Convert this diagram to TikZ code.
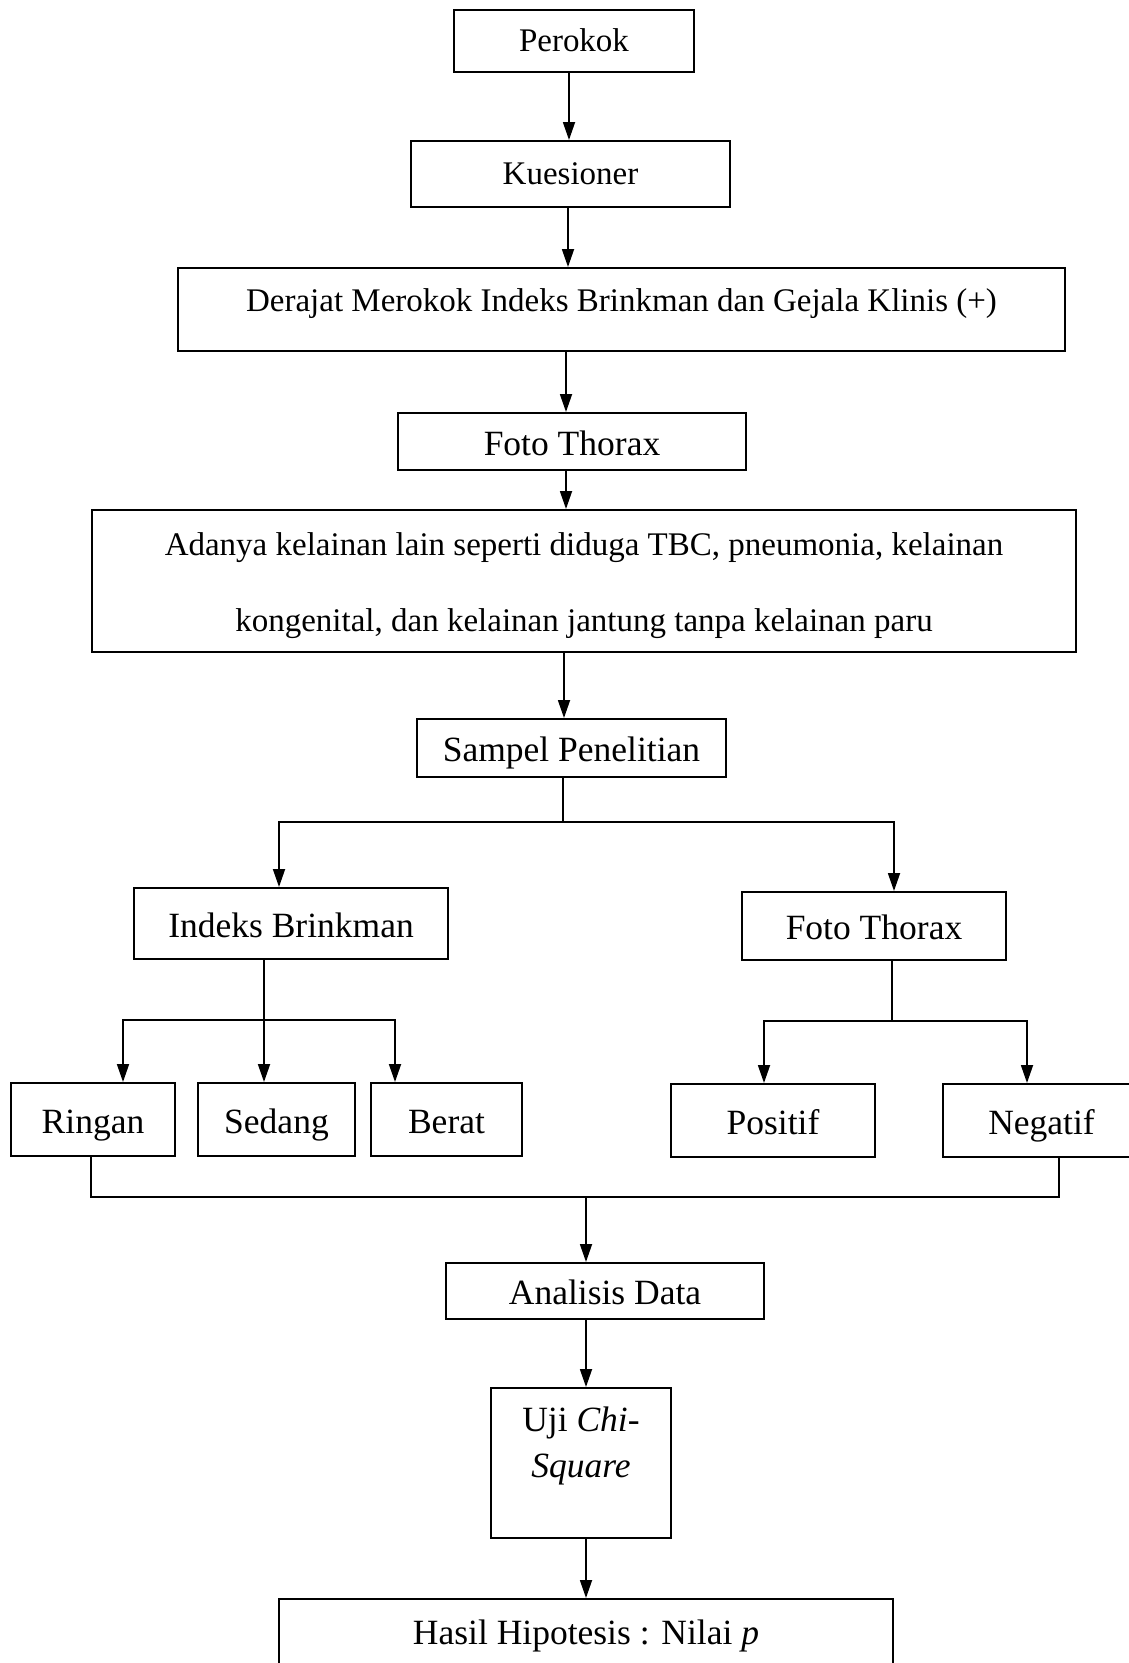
\documentclass[tikz,border=0pt]{standalone}
\usepackage{fontspec}
\setmainfont{Liberation Serif}
\usetikzlibrary{arrows.meta}
\begin{document}
\begin{tikzpicture}[x=1pt,y=-1pt,
  box/.style={draw,line width=2pt,inner sep=0pt,align=center},
  arr/.style={line width=1.8pt,-{Triangle[length=18pt,width=12pt]}},
  ln/.style={line width=1.8pt},
  fa/.style={font=\fontsize{33}{40}\selectfont,text height=25pt,text depth=5pt},
  fb/.style={font=\fontsize{35.5}{42}\selectfont,text height=30pt,text depth=3pt}]
\useasboundingbox (0,0) rectangle (1129,1663);
% boxes
\node[box,fa,minimum width=240pt,minimum height=62pt] (perokok) at (574,41) {Perokok};
\node[box,fa,minimum width=319pt,minimum height=66pt] (kues) at (570.5,174) {Kuesioner};
\node[box,minimum width=887pt,minimum height=83pt] (derajat) at (621.5,309.5) {};
\node[fa,inner sep=0pt] (derajattxt) at (621.5,301) {Derajat Merokok Indeks Brinkman dan Gejala Klinis (+)};
\node[box,fb,minimum width=348pt,minimum height=57pt] (foto1) at (572,441.5) {Foto Thorax};
\node[box,minimum width=984pt,minimum height=142pt] (adanya) at (584,581) {};
\node[inner sep=0pt,align=center,font=\fontsize{33}{76}\selectfont] (adanyatxt) at (584,586) {Adanya kelainan lain seperti diduga TBC, pneumonia, kelainan\\kongenital, dan kelainan jantung tanpa kelainan paru};
\node[box,fb,minimum width=309pt,minimum height=58pt] (sampel) at (571.5,748) {Sampel Penelitian};
\node[box,fb,minimum width=314pt,minimum height=71pt] (indeks) at (291,923.5) {Indeks Brinkman};
\node[box,fb,minimum width=264pt,minimum height=68pt] (foto2) at (874,926) {Foto Thorax};
\node[box,fb,minimum width=164pt,minimum height=73pt] (ringan) at (93,1119.5) {Ringan};
\node[box,fb,minimum width=157pt,minimum height=73pt] (sedang) at (276.5,1119.5) {Sedang};
\node[box,fb,minimum width=151pt,minimum height=73pt] (berat) at (446.5,1119.5) {Berat};
\node[box,fb,minimum width=204pt,minimum height=73pt] (positif) at (773,1120.5) {Positif};
\node[box,fb,minimum width=197pt,minimum height=73pt] (negatif) at (1041.5,1120.5) {Negatif};
\node[box,fb,minimum width=318pt,minimum height=56pt] (analisis) at (605,1291) {Analisis Data};
\node[box,minimum width=180pt,minimum height=150pt] (uji) at (581,1463) {};
\node[inner sep=0pt,align=center,font=\fontsize{35.5}{46}\selectfont] (ujitxt) at (581,1446) {Uji \textit{Chi-}\\\textit{Square}};
\node[box,minimum width=614pt,minimum height=140pt] (hasil) at (586,1669) {};
\node[fb,inner sep=0pt] (hasiltxt) at (586,1631) {Hasil Hipotesis : Nilai \textit{p}};
% columns
\coordinate (c1) at (569,0);
\coordinate (c2) at (568,0);
\coordinate (c3) at (566,0);
\coordinate (c5) at (564,0);
\coordinate (xL) at (279,0);
\coordinate (xR) at (894,0);
\coordinate (xa) at (123,0);
\coordinate (xc) at (395,0);
\coordinate (xp) at (764,0);
\coordinate (xn) at (1027,0);
\coordinate (xg) at (91,0);
\coordinate (xh) at (1059,0);
\coordinate (b1) at (563,822);
\coordinate (b2) at (264,1020);
\coordinate (b3) at (892,1021);
\coordinate (b4) at (586,1197);
% connectors
\draw[arr] (perokok.south -| c1) -- (kues.north -| c1);
\draw[arr] (kues.south -| c2) -- (derajat.north -| c2);
\draw[arr] (derajat.south -| c3) -- (foto1.north -| c3);
\draw[arr] (foto1.south -| c3) -- (adanya.north -| c3);
\draw[arr] (adanya.south -| c5) -- (sampel.north -| c5);
\draw[ln] (sampel.south -| b1) -- (b1);
\draw[arr] (b1) -| (indeks.north -| xL);
\draw[arr] (b1) -| (foto2.north -| xR);
\draw[arr] (indeks.south -| b2) -- (sedang.north -| b2);
\draw[arr] (b2) -| (ringan.north -| xa);
\draw[arr] (b2) -| (berat.north -| xc);
\draw[ln] (foto2.south -| b3) -- (b3);
\draw[arr] (b3) -| (positif.north -| xp);
\draw[arr] (b3) -| (negatif.north -| xn);
\draw[ln] (ringan.south -| xg) |- (b4);
\draw[ln] (negatif.south -| xh) |- (b4);
\draw[arr] (b4) -- (analisis.north -| b4);
\draw[arr] (analisis.south -| b4) -- (uji.north -| b4);
\draw[arr] (uji.south -| b4) -- (hasil.north -| b4);
\end{tikzpicture}
\end{document}
